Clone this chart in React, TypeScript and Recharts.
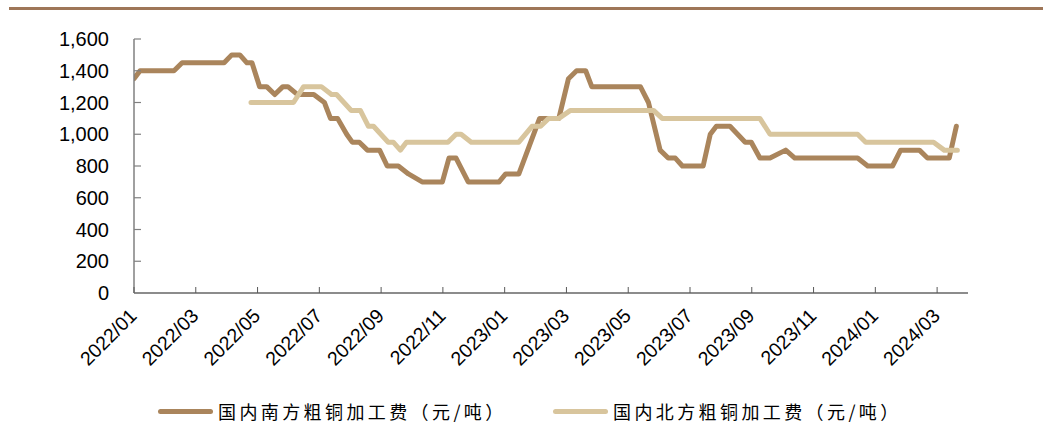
import { LineChart, Line, XAxis, YAxis } from "recharts";

// 国内南方粗铜加工费 (dark)
const southDates = [
  "2022-01-01", "2022-01-07", "2022-02-10", "2022-02-18", "2022-03-29", "2022-04-06",
  "2022-04-14", "2022-04-21", "2022-04-26", "2022-05-03", "2022-05-10", "2022-05-18",
  "2022-05-26", "2022-05-31", "2022-06-10", "2022-06-26", "2022-07-06", "2022-07-12",
  "2022-07-19", "2022-07-28", "2022-08-03", "2022-08-10", "2022-08-18", "2022-08-30",
  "2022-09-07", "2022-09-18", "2022-09-28", "2022-10-11", "2022-10-31", "2022-11-07",
  "2022-11-14", "2022-11-26", "2022-12-26", "2023-01-02", "2023-01-15", "2023-02-05",
  "2023-02-24", "2023-03-03", "2023-03-11", "2023-03-20", "2023-03-26", "2023-05-13",
  "2023-05-21", "2023-06-02", "2023-06-10", "2023-06-17", "2023-06-24", "2023-07-14",
  "2023-07-21", "2023-07-27", "2023-08-10", "2023-08-25", "2023-08-31", "2023-09-09",
  "2023-09-19", "2023-10-04", "2023-10-13", "2023-12-14", "2023-12-24", "2024-01-18",
  "2024-01-26", "2024-02-14", "2024-02-22", "2024-03-13", "2024-03-20",
];
const southValues = [
  1350, 1400, 1400, 1450, 1450, 1500,
  1500, 1450, 1450, 1300, 1300, 1250,
  1300, 1300, 1250, 1250, 1200, 1100,
  1100, 1000, 950, 950, 900, 900,
  800, 800, 750, 700, 700, 850,
  850, 700, 700, 750, 750, 1100,
  1100, 1350, 1400, 1400, 1300, 1300,
  1200, 900, 850, 850, 800, 800,
  1000, 1050, 1050, 950, 950, 850,
  850, 900, 850, 850, 800, 800,
  900, 900, 850, 850, 1050,
];

// 国内北方粗铜加工费 (light)
const northDates = [
  "2022-04-25", "2022-06-06", "2022-06-16", "2022-07-03", "2022-07-13", "2022-07-18",
  "2022-08-02", "2022-08-11", "2022-08-19", "2022-08-24", "2022-09-08", "2022-09-13",
  "2022-09-20", "2022-09-26", "2022-11-06", "2022-11-14", "2022-11-19", "2022-11-29",
  "2023-01-15", "2023-01-28", "2023-02-06", "2023-02-14", "2023-02-24", "2023-03-05",
  "2023-05-26", "2023-06-04", "2023-09-09", "2023-09-19", "2023-12-14", "2023-12-22",
  "2024-02-28", "2024-03-08", "2024-03-21",
];
const northValues = [
  1200, 1200, 1300, 1300, 1250, 1250,
  1150, 1150, 1050, 1050, 950, 950,
  900, 950, 950, 1000, 1000, 950,
  950, 1050, 1050, 1100, 1100, 1150,
  1150, 1100, 1100, 1000, 1000, 950,
  950, 900, 900,
];

const yTicks = [0, 200, 400, 600, 800, 1000, 1200, 1400, 1600];
const xTickMonths = [0, 2, 4, 6, 8, 10, 12, 14, 16, 18, 20, 22, 24, 26];

const SOUTH = "#AA855C";
const NORTH = "#D8C59D";
const PLOT_LEFT = 134;
const PLOT_BOTTOM = 293;

const toMonth = (d: string) => {
  const [y, m, day] = d.split("-").map(Number);
  return (y - 2022) * 12 + (m - 1) + (day - 1) / 30.5;
};

const southData = southDates.map((d, i) => ({ t: toMonth(d), v: southValues[i] }));
const northData = northDates.map((d, i) => ({ t: toMonth(d), v: northValues[i] }));

const monthLabel = (m: number) => {
  const y = 2022 + Math.floor(m / 12);
  const mm = (m % 12) + 1;
  return `${y}/${mm < 10 ? "0" + mm : mm}`;
};

function YTick(props: any) {
  const { y, payload } = props;
  return (
    <g>
      {payload.value > 0 && (
        <line x1={PLOT_LEFT} x2={PLOT_LEFT + 7} y1={y} y2={y} stroke="#808080" strokeWidth={1.2} />
      )}
      <text x={PLOT_LEFT - 25} y={y} dy={7} textAnchor="end" fontSize={20} fill="#000"
        fontFamily="'Liberation Sans', Arial, sans-serif">
        {payload.value.toLocaleString("en-US")}
      </text>
    </g>
  );
}

function XTick(props: any) {
  const { x, payload } = props;
  const ty = PLOT_BOTTOM + 24;
  return (
    <g>
      <line x1={x} x2={x} y1={PLOT_BOTTOM} y2={PLOT_BOTTOM - 6} stroke="#595959" strokeWidth={1} />
      <text x={x + 4} y={ty} textAnchor="end" fontSize={19.5} fill="#000"
        fontFamily="'Liberation Sans', Arial, sans-serif"
        transform={`rotate(-45, ${x + 4}, ${ty})`}>
        {monthLabel(payload.value)}
      </text>
    </g>
  );
}

const legendItems = [
  { name: "国内南方粗铜加工费（元/吨）", color: SOUTH, left: 158 },
  { name: "国内北方粗铜加工费（元/吨）", color: NORTH, left: 553 },
];

export default function App() {
  return (
    <div style={{ position: "absolute", left: 0, top: 0, width: 1049, height: 430, background: "#fff" }}>
      <div style={{ position: "absolute", left: 9, top: 7, width: 1034, height: 2.5, background: "#9E7658" }} />
      <LineChart width={1049} height={430} margin={{ top: 39, right: 81, left: 0, bottom: 0 }}>
        <XAxis
          type="number"
          dataKey="t"
          domain={[0, 27]}
          ticks={xTickMonths}
          interval={0}
          height={137}
          axisLine={{ stroke: "#1a1a1a", strokeWidth: 1.2 }}
          tickLine={false}
          tick={<XTick />}
          allowDataOverflow
        />
        <YAxis
          type="number"
          domain={[0, 1600]}
          ticks={yTicks}
          interval={0}
          width={134}
          axisLine={{ stroke: "#808080", strokeWidth: 1.5 }}
          tickLine={false}
          tick={<YTick />}
        />
        <Line data={southData} dataKey="v" type="linear" stroke={SOUTH} strokeWidth={5}
          dot={false} strokeLinecap="round" strokeLinejoin="round" isAnimationActive={false} />
        <Line data={northData} dataKey="v" type="linear" stroke={NORTH} strokeWidth={5}
          dot={false} strokeLinecap="round" strokeLinejoin="round" isAnimationActive={false} />
      </LineChart>
      {legendItems.map((it) => (
        <div key={it.name} style={{ position: "absolute", left: it.left, top: 398, display: "flex", alignItems: "center" }}>
          <div style={{ width: 55, height: 5, borderRadius: 3, background: it.color, marginRight: 5 }} />
          <span style={{ fontFamily: "'Noto Sans CJK SC', sans-serif", fontSize: 18, letterSpacing: 3.4, color: "#000", whiteSpace: "nowrap" }}>
            {it.name}
          </span>
        </div>
      ))}
    </div>
  );
}
